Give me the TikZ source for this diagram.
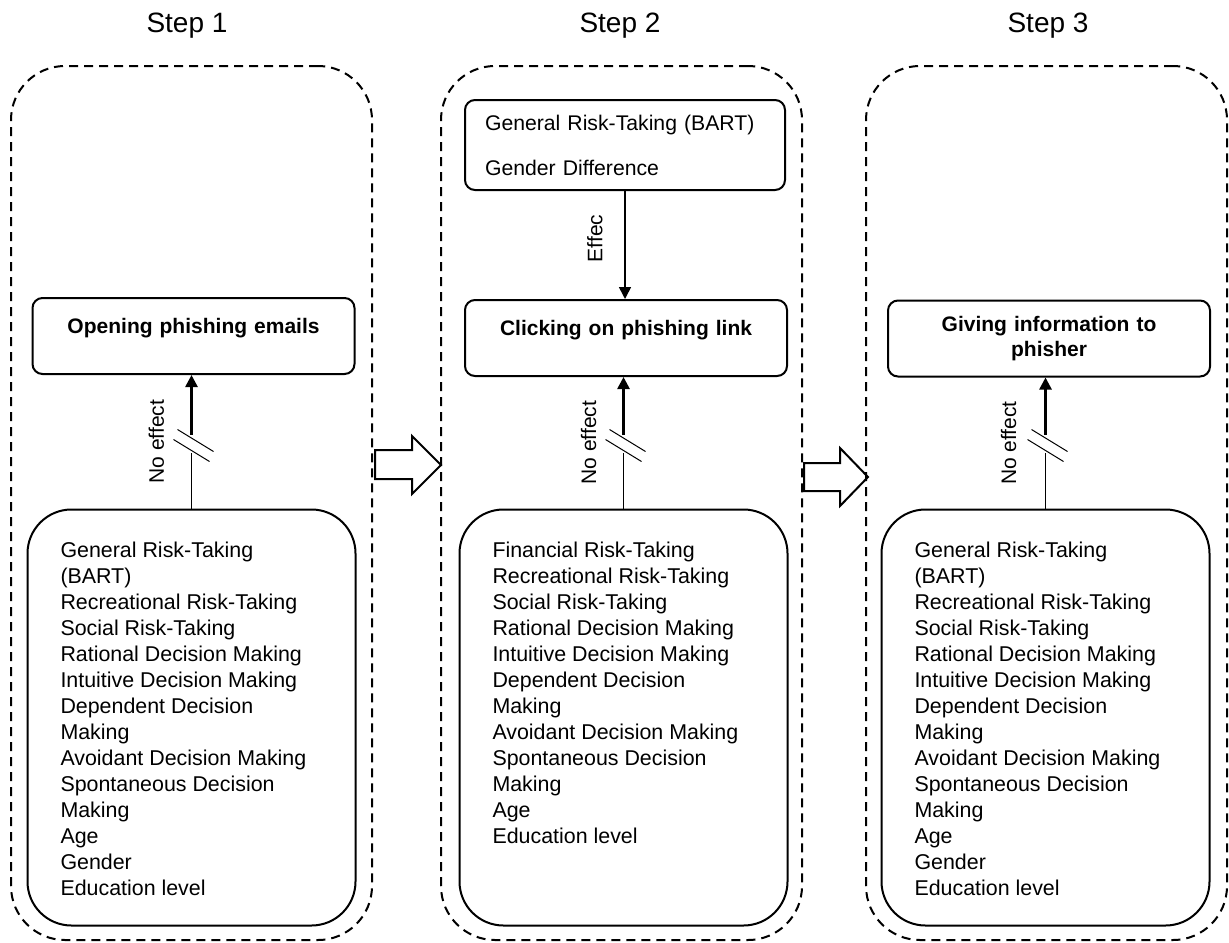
\documentclass[tikz,border=0pt]{standalone}
\usepackage{fontspec}
\setmainfont{Liberation Sans}
\usetikzlibrary{arrows.meta, calc}
\tikzset{>={Triangle[length=6pt,width=6pt]}}

\begin{document}
\begin{tikzpicture}[x=0.5pt, y=-0.5pt,
    panel/.style={draw, line width=1pt, dash pattern=on 4.5pt off 3pt, rounded corners=27pt, minimum width=180.5pt, minimum height=437pt, inner sep=0pt},
    title/.style={font=\fontsize{14}{16}\selectfont},
    outcome/.style={draw, line width=1pt, rounded corners=5pt, minimum width=161pt, minimum height=38pt, text width=150pt, align=center, font=\bfseries\fontsize{10.5}{12.5}\selectfont},
    factor/.style={draw, line width=1pt, rounded corners=5pt, minimum width=160pt, minimum height=45pt, text width=140pt, align=left, font=\fontsize{10.6}{13}\selectfont},
    varbox/.style={draw, line width=1pt, rounded corners=22pt, inner xsep=16.5pt, inner ysep=16pt, font=\fontsize{10.7}{13}\selectfont},
    lbl/.style={font=\fontsize{10.5}{13}\selectfont, rotate=90},
    hollow/.style={draw, line width=1pt},
    noeff/.style={line width=0.6pt},
    eff/.style={line width=1.3pt, ->},
    brk/.style={line width=0.5pt}]
    \useasboundingbox (0,0) rectangle (1229,942);
    \node[title] (t1) at (187,26) {Step 1};
    \node[title] (t2) at (620,26) {Step 2};
    \node[title] (t3) at (1048,26) {Step 3};
    \node[panel] (s1) at (191.5,503) {};
    \node[panel] (s2) at (621.5,503) {};
    \node[panel] (s3) at (1046.5,503) {};
    \node[outcome, text depth=10.5pt] (o1) at (193.5,336) {Opening phishing emails};
    \node[outcome, text depth=10.5pt] (o2) at (626,338) {Clicking on phishing link};
    \node[outcome] (o3) at (1049,338.5) {Giving information to\\phisher};
    \node[factor] (r2) at (625,145) {General Risk-Taking (BART)\\[9.5pt]Gender Difference};
    \node[varbox] (f1) at (191.5,717.5) {\parbox[t][176pt][t]{131pt}{\raggedright
        General Risk-Taking\\(BART)\\Recreational Risk-Taking\\Social Risk-Taking\\Rational Decision Making\\Intuitive Decision Making\\Dependent Decision\\Making\\Avoidant Decision Making\\Spontaneous Decision\\Making\\Age\\Gender\\Education level}};
    \node[varbox] (f2) at (623.5,717.5) {\parbox[t][176pt][t]{131pt}{\raggedright
        Financial Risk-Taking\\Recreational Risk-Taking\\Social Risk-Taking\\Rational Decision Making\\Intuitive Decision Making\\Dependent Decision\\Making\\Avoidant Decision Making\\Spontaneous Decision\\Making\\Age\\Education level}};
    \node[varbox] (f3) at (1045.5,717.5) {\parbox[t][176pt][t]{131pt}{\raggedright
        General Risk-Taking\\(BART)\\Recreational Risk-Taking\\Social Risk-Taking\\Rational Decision Making\\Intuitive Decision Making\\Dependent Decision\\Making\\Avoidant Decision Making\\Spontaneous Decision\\Making\\Age\\Gender\\Education level}};
    \draw[->, line width=0.8pt] (r2.south) -- (r2.south |- o2.north) node[lbl, pos=.44, above=7.5pt] (ef) {Effec};
    \draw[noeff] (f1.north) -- ++(0,-56);
    \draw[eff] (f1.north) ++(0,-74) -- (f1.north |- o1.south);
    \draw[brk] (f1.north) ++(-14,-79) -- ++(36,22) ++(-40,-12) -- ++(36,22);
    \node[lbl] (ne1) at ($(f1.north)!.5!(f1.north |- o1.south)+(-35,0)$) {No effect};
    \draw[noeff] (f2.north) -- ++(0,-56);
    \draw[eff] (f2.north) ++(0,-74) -- (f2.north |- o2.south);
    \draw[brk] (f2.north) ++(-14,-79) -- ++(36,22) ++(-40,-12) -- ++(36,22);
    \node[lbl] (ne2) at ($(f2.north)!.5!(f2.north |- o2.south)+(-35,0)$) {No effect};
    \draw[noeff] (f3.north) -- ++(0,-56);
    \draw[eff] (f3.north) ++(0,-74) -- (f3.north |- o3.south);
    \draw[brk] (f3.north) ++(-14,-79) -- ++(36,22) ++(-40,-12) -- ++(36,22);
    \node[lbl] (ne3) at ($(f3.north)!.5!(f3.north |- o3.south)+(-37,0)$) {No effect};
    \draw[hollow] (375,450) -- (412,450) -- (412,436) -- (441,465) -- (412,494) -- (412,479) -- (375,479) -- cycle;
    \draw[hollow] (804,463) -- (840,463) -- (840,448) -- (868,477) -- (840,506) -- (840,491) -- (804,491) -- cycle;
\end{tikzpicture}
\end{document}
